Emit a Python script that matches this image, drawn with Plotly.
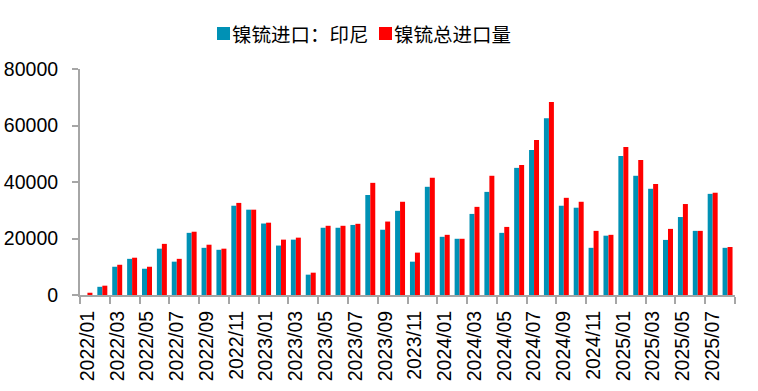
import plotly.graph_objects as go

months = [f"{y}/{m:02d}" for y in range(2022, 2026) for m in range(1, 13)][:44]

indonesia = [0, 2900, 10000, 12800, 9300, 16400, 11800, 22000, 16700, 16000, 31600, 30200,
             25300, 17500, 19600, 7200, 23800, 23800, 24800, 35400, 23100, 29800, 11800, 38300,
             20600, 19900, 28700, 36500, 22000, 45000, 51300, 62600, 31600, 30900, 16700, 21000,
             49200, 42200, 37600, 19500, 27600, 22700, 35800, 16700]
total = [800, 3300, 10700, 13200, 10000, 18100, 12800, 22400, 17800, 16400, 32600, 30200,
         25600, 19600, 20300, 7900, 24500, 24500, 25200, 39700, 26000, 33000, 15000, 41500,
         21300, 19900, 31200, 42200, 24100, 46000, 54900, 68300, 34400, 33000, 22700, 21300,
         52400, 47800, 39300, 23400, 32200, 22700, 36200, 17000]

names = ["镍锍进口：印尼", "镍锍总进口量"]
colors = ["#0091B5", "#FF0000"]

fig = go.Figure()
fig.add_trace(go.Bar(x=months, y=indonesia, name=names[0], marker_color=colors[0], marker_line_width=0))
fig.add_trace(go.Bar(x=months, y=total, name=names[1], marker_color=colors[1], marker_line_width=0))

L, R, T, B = 80, 23, 69, 96
W, H = 758, 391
pw = W - L - R
ph = H - T - B

def px2x(px):
    return (px - L) / pw

def py2y(py):
    return (H - B - py) / ph

# manual legend
legend_items = [(217, names[0], colors[0]), (379, names[1], colors[1])]
for x0, name, col in legend_items:
    fig.add_shape(type="rect", xref="paper", yref="paper",
                  x0=px2x(x0), x1=px2x(x0 + 13),
                  y0=py2y(40), y1=py2y(27),
                  fillcolor=col, line_width=0)
    fig.add_annotation(xref="paper", yref="paper", x=px2x(x0 + 13), y=py2y(33.5),
                       xanchor="left", yanchor="middle", text=name, showarrow=False,
                       font=dict(family="Noto Sans CJK SC", size=19.5, color="#000000"))

fig.update_layout(
    width=W, height=H,
    margin=dict(l=L, r=R, t=T, b=B, autoexpand=False),
    paper_bgcolor="white", plot_bgcolor="white",
    showlegend=False,
    barmode="group", bargap=0.33, bargroupgap=0,
    font=dict(family="Liberation Sans, Arial, sans-serif", color="#000000"),
)
fig.update_xaxes(
    type="category", categoryorder="array", categoryarray=months,
    dtick=2, tickson="boundaries", tickangle=-90,
    ticks="outside", ticklen=7, tickwidth=2, tickcolor="#A6A6A6",
    showline=True, linecolor="#A6A6A6", linewidth=2, ticklabelstandoff=6,
    showgrid=False, tickfont=dict(size=19.5, color="#000000"),
)
fig.update_yaxes(
    range=[0, 80000], dtick=20000, tickformat="d",
    ticks="outside", ticklen=6, tickwidth=2, tickcolor="#A6A6A6",
    showline=True, linecolor="#A6A6A6", linewidth=2, ticklabelstandoff=10,
    showgrid=False, zeroline=False, tickfont=dict(size=19.5, color="#000000"),
)

fig.write_html("out.html", config={"displayModeBar": False},
               post_script="document.body.style.margin='0px';")
